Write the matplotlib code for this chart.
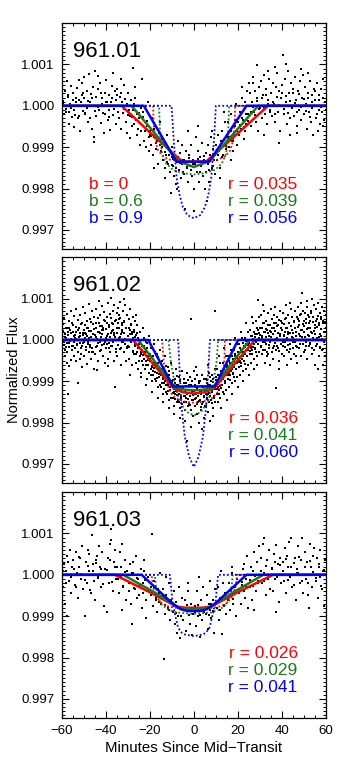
import numpy as np
import matplotlib
matplotlib.use('Agg')
from matplotlib import pyplot as plt
from matplotlib.ticker import MultipleLocator, FixedLocator, FormatStrFormatter

plt.rcParams['font.family'] = ['Liberation Sans', 'DejaVu Sans']

names = ['961.01', '961.02', '961.03']
b_labels = ['b = 0', 'b = 0.6', 'b = 0.9']
r_labels = [['r = 0.035', 'r = 0.039', 'r = 0.056'],
            ['r = 0.036', 'r = 0.041', 'r = 0.060'],
            ['r = 0.026', 'r = 0.029', 'r = 0.041']]
colors = ['#ff0000', '#1b7a1b', '#0000ff']
yticks = [0.997, 0.998, 0.999, 1.000, 1.001]

# data points: (minutes, flux - 1 in units of 1e-5)
pts1 = [(-59.6,12),(-59.0,-20),(-58.4,35),(-58.0,-8),(-57.3,22),(-56.9,-45),(-56.2,5),(-55.8,48),(-55.3,-28),(-59.8,-35),(-57.7,60),(-56.5,-15),
        (-54.8,30),(-54.2,-52),(-53.5,8),(-53.0,42),(-52.6,-30),(-52.0,15),(-51.5,-60),(-51.0,25),(-50.4,-12),(-50.8,55),(-53.8,-22),(-52.3,62),
        (-49.7,70),(-49.2,-18),(-48.6,35),(-48.0,-40),(-47.5,78),(-47.0,10),(-46.4,-55),(-45.9,45),(-45.5,-75),(-45.2,-88),(-46.8,28),(-48.3,-5),(-49.9,20),
        (-44.8,85),(-44.3,-25),(-43.7,40),(-43.1,-10),(-42.6,55),(-42.0,-42),(-41.5,18),(-41.0,-65),(-40.5,30),(-40.2,-20),(-43.4,72),(-41.8,5),
        (-39.7,62),(-39.2,-35),(-38.7,25),(-38.1,-58),(-37.6,8),(-37.0,48),(-36.5,-22),(-36.0,35),(-35.5,-45),(-35.2,15),(-38.4,-10),(-36.8,80),
        (-34.7,40),(-34.2,-30),(-33.6,22),(-33.0,-55),(-32.5,10),(-32.0,-18),(-31.5,50),(-31.0,-40),(-30.5,5),(-30.2,-65),(-33.3,65),(-31.8,-8),
        (-29.7,30),(-29.2,-25),(-28.6,15),(-28.1,-50),(-27.8,92),(-27.5,-10),(-27.0,-45),(-26.5,20),(-26.0,-70),(-25.6,-20),(-25.2,-55),(-28.9,-78),(-26.8,45),
        (-24.7,-30),(-24.3,-95),(-23.8,-60),(-23.5,65),(-23.1,-15),(-22.6,-85),(-22.2,-40),(-21.8,-100),(-21.3,-50),(-20.9,10),(-20.5,-75),(-20.2,-110),(-24.0,-5),
        (-19.8,-60),(-19.4,-95),(-19.0,-30),(-18.5,-120),(-18.1,-75),(-17.7,-50),(-17.2,-105),(-16.8,-85),(-16.3,-140),(-15.9,-65),(-15.5,-95),(-15.2,-40),(-17.9,-150),
        (-14.8,-110),(-14.4,-80),(-13.9,-130),(-13.5,-95),(-13.0,-150),(-12.6,-120),(-12.1,-70),(-11.7,-140),(-11.2,-105),(-10.8,-160),(-10.4,-210),(-10.1,-125),(-13.2,-175),
        (-9.8,-100),(-9.4,-145),(-9.0,-170),(-8.5,-120),(-8.1,-190),(-7.7,-135),(-7.2,-85),(-6.8,-155),(-6.3,-115),(-5.9,-175),(-5.5,-140),(-5.2,-95),(-7.5,-200),
        (-4.8,-130),(-4.4,-165),(-3.9,-250),(-3.5,-110),(-3.0,-150),(-2.6,-185),(-2.1,-120),(-1.7,-145),(-1.2,-95),(-0.8,-170),(-0.4,-130),(-0.1,-200),(-2.8,-60),
        (0.2,-255),(0.6,-140),(1.0,-75),(1.4,-160),(1.9,-110),(2.3,-185),(2.7,-125),(3.2,-145),(3.6,-90),(4.1,-170),(4.5,-130),(4.9,-200),(2.0,-50),
        (5.3,-115),(5.7,-160),(6.2,-95),(6.6,-140),(7.0,-185),(7.5,-120),(7.9,-75),(8.4,-150),(8.8,-105),(9.2,-130),(9.7,-165),(6.0,-230),(8.1,-60),
        (10.2,-95),(10.6,-130),(11.1,-70),(11.5,-110),(12.0,-150),(12.4,-85),(12.9,-60),(13.3,-120),(13.8,-95),(14.2,-40),(14.7,-105),(11.8,-175),(13.6,-15),
        (15.2,-75),(15.6,-40),(16.1,-100),(16.5,-60),(17.0,-20),(17.4,-85),(17.9,-110),(18.3,-50),(18.8,-70),(19.2,5),(19.7,-95),(16.8,-130),(18.6,-35),
        (20.2,-40),(20.6,-70),(21.1,-15),(21.5,-55),(22.0,20),(22.4,-35),(22.9,-80),(23.3,10),(23.8,-45),(24.2,35),(24.7,-20),(21.7,45),(23.0,-60),(24.9,55),
        (25.2,-25),(25.6,30),(26.1,-50),(26.5,10),(27.0,55),(27.4,-15),(27.9,35),(28.3,-40),(28.5,99),(28.8,20),(29.2,-60),(29.7,45),(26.8,70),
        (30.2,-5),(30.6,60),(31.1,-30),(31.5,25),(32.0,75),(32.4,-20),(32.9,40),(33.3,-45),(33.8,15),(34.2,65),(34.7,-10),(31.8,-70),(33.5,85),
        (35.2,30),(35.6,-25),(36.1,55),(36.5,5),(37.0,-40),(37.4,45),(37.9,80),(38.3,-15),(38.8,35),(39.2,-60),(39.7,20),(36.8,95),(38.6,-90),
        (40.2,50),(40.6,123),(41.1,-20),(41.5,65),(42.0,10),(42.4,-45),(42.9,85),(43.3,30),(43.8,-30),(44.2,55),(44.7,-5),(41.8,100),(43.6,-70),
        (45.2,40),(45.6,-25),(46.1,70),(46.5,15),(47.0,-50),(47.4,35),(47.9,-10),(48.3,60),(48.8,-35),(49.2,20),(49.7,75),(46.8,-65),(48.6,90),
        (50.2,-20),(50.6,45),(51.1,5),(51.5,-55),(52.0,30),(52.4,-15),(52.9,60),(53.3,-40),(53.8,25),(54.2,-70),(54.7,40),(51.8,80),(53.6,-5),
        (55.2,35),(55.6,-30),(56.1,55),(56.5,-60),(57.0,15),(57.4,-45),(57.9,40),(58.3,-15),(58.8,65),(59.2,-35),(59.7,10),(56.8,-10),(58.6,-50)]
pts1_core = [(-59.3,5),(-58.2,-15),(-57.0,25),(-56.0,-6),(-55.0,14),(-54.4,-10),(-53.3,20),(-52.1,-24),(-51.2,8),(-50.1,32),
             (-49.4,-20),(-48.2,12),(-47.2,-30),(-46.1,18),(-45.0,-12),(-44.5,22),(-43.3,-4),(-42.3,30),(-41.2,-18),(-40.0,10),
             (-39.5,8),(-38.3,-26),(-37.3,18),(-36.2,-8),(-35.0,26),(-34.4,-14),(-33.2,30),(-32.2,-4),(-31.2,16),(-30.0,-22),
             (-29.4,-10),(-28.3,-28),(-27.2,4),(-26.2,-34),(-25.0,-18),(-24.4,-42),(-23.3,-28),(-22.2,-62),(-21.2,-36),(-20.0,-70),
             (-19.4,-72),(-18.3,-56),(-17.2,-90),(-16.2,-78),(-15.0,-110),(-14.4,-100),(-13.3,-112),(-12.2,-135),(-11.2,-120),(-10.0,-142),
             (-9.4,-128),(-8.3,-150),(-7.2,-124),(-6.2,-138),(-5.0,-160),(-4.4,-132),(-3.3,-148),(-2.2,-126),(-1.2,-156),(-0.2,-140),
             (0.8,-146),(1.8,-128),(2.8,-160),(3.8,-138),(4.8,-122),(5.8,-134),(6.8,-156),(7.8,-128),(8.8,-145),(9.8,-120),
             (10.8,-118),(11.8,-98),(12.8,-124),(13.8,-82),(14.8,-96),(15.8,-76),(16.8,-60),(17.8,-84),(18.8,-48),(19.8,-62),
             (20.8,-46),(21.8,-30),(22.8,-52),(23.8,-20),(24.8,-36),(25.8,-14),(26.8,-2),(27.8,-22),(28.8,12),(29.8,-8),
             (30.8,18),(31.8,-6),(32.8,26),(33.8,4),(34.8,-16),(35.8,10),(36.8,-20),(37.8,22),(38.8,2),(39.8,32),
             (40.8,-8),(41.8,24),(42.8,-18),(43.8,12),(44.8,30),(45.8,6),(46.8,-14),(47.8,28),(48.8,-4),(49.8,16),
             (50.8,-12),(51.8,20),(52.8,-26),(53.8,8),(54.8,14),(55.8,-20),(56.8,26),(57.8,-2),(58.8,18),(59.8,-10)]

pts2 = [(-59.9,15),(-59.7,-22),(-59.4,38),(-59.1,-5),(-58.9,52),(-58.6,-40),(-58.3,8),(-58.1,-18),(-57.9,30),(-57.7,-55),(-57.6,62),(-58.8,-12),
        (-57.4,-30),(-57.2,20),(-57.0,-131),(-56.8,45),(-56.5,-8),(-56.3,25),(-56.0,-48),(-55.8,70),(-55.6,2),(-55.4,-25),(-55.2,40),(-56.6,-62),
        (-54.9,35),(-54.7,-15),(-54.4,58),(-54.2,-38),(-54.0,12),(-53.7,75),(-53.5,-52),(-53.3,20),(-53.0,-10),(-52.8,48),(-52.6,-28),(-53.9,5),
        (-52.4,-105),(-52.2,28),(-51.9,-45),(-51.7,60),(-51.5,10),(-51.2,-20),(-51.0,42),(-50.8,-65),(-50.5,18),(-50.3,80),(-50.1,-8),(-51.4,-35),
        (-49.9,25),(-49.7,-40),(-49.4,65),(-49.2,5),(-48.9,-18),(-48.7,45),(-48.4,-58),(-48.2,30),(-48.0,-5),(-47.8,88),(-47.6,-30),(-48.8,15),
        (-47.3,50),(-47.1,-12),(-46.8,22),(-46.6,-45),(-46.4,70),(-46.1,0),(-45.9,-28),(-45.7,38),(-45.4,-70),(-45.2,55),(-45.1,12),(-46.3,-20),
        (-44.9,-35),(-44.6,40),(-44.4,8),(-44.2,75),(-43.9,-15),(-43.7,52),(-43.5,-50),(-43.2,20),(-43.0,95),(-42.8,-5),(-42.6,33),(-43.8,-72),
        (-42.4,60),(-42.1,-25),(-41.9,15),(-41.7,82),(-41.4,-40),(-41.2,30),(-41.0,-10),(-40.7,68),(-40.5,-55),(-40.3,45),(-40.1,5),(-41.5,25),
        (-39.9,-20),(-39.6,55),(-39.4,10),(-39.1,-45),(-38.9,90),(-38.7,35),(-38.4,-8),(-38.2,62),(-38.0,-30),(-37.7,101),(-37.6,18),(-39.0,-62),
        (-37.3,40),(-37.1,-15),(-36.9,70),(-36.6,25),(-36.4,-50),(-36.1,85),(-35.9,-113),(-35.7,8),(-35.4,48),(-35.2,-28),(-35.1,65),(-36.3,12),
        (-34.9,30),(-34.7,-40),(-34.4,78),(-34.2,5),(-34.0,50),(-33.7,-22),(-33.5,92),(-33.2,15),(-33.0,-60),(-32.8,40),(-32.6,-5),(-33.8,60),
        (-32.4,20),(-32.1,70),(-31.9,-30),(-31.7,45),(-31.4,-10),(-31.2,85),(-31.0,-50),(-30.7,28),(-30.5,60),(-30.3,-20),(-30.1,10),(-31.5,100),
        (-29.9,-15),(-29.6,50),(-29.4,-45),(-29.2,25),(-28.9,75),(-28.7,-5),(-28.5,38),(-28.2,-60),(-28.0,15),(-27.8,-30),(-27.6,55),(-28.8,-85),
        (-27.3,20),(-27.1,-35),(-26.9,45),(-26.6,-10),(-26.4,-55),(-26.1,12),(-25.9,-30),(-25.7,35),(-25.4,-70),(-25.2,5),(-25.1,-20),(-26.3,60),
        (-24.9,-10),(-24.7,-50),(-24.4,20),(-24.2,-35),(-24.0,-80),(-23.7,0),(-23.5,-25),(-23.2,-60),(-23.0,30),(-22.8,-45),(-22.6,-15),(-23.8,-90),
        (-22.4,-30),(-22.1,-70),(-21.9,-5),(-21.7,-50),(-21.4,-95),(-21.2,-20),(-21.0,-60),(-20.7,-40),(-20.5,10),(-20.3,-80),(-20.1,-35),(-21.5,-110),
        (-19.9,-45),(-19.6,-85),(-19.4,-20),(-19.1,-65),(-18.9,-100),(-18.7,-40),(-18.4,-75),(-18.2,-55),(-18.0,-10),(-17.7,-95),(-17.6,-60),(-19.0,-125),
        (-17.3,-60),(-17.1,-100),(-16.9,-35),(-16.6,-80),(-16.4,-115),(-16.1,-55),(-15.9,-90),(-15.7,-70),(-15.4,-25),(-15.2,-110),(-15.1,-75),(-16.3,-140),
        (-14.9,-75),(-14.7,-115),(-14.4,-50),(-14.2,-95),(-14.0,-130),(-13.7,-70),(-13.5,-105),(-13.2,-85),(-13.0,-40),(-12.8,-125),(-12.6,-90),(-13.8,-150),
        (-12.4,-90),(-12.1,-130),(-11.9,-65),(-11.7,-110),(-11.4,-145),(-11.2,-85),(-11.0,-120),(-10.7,-100),(-10.5,-55),(-10.3,-140),(-10.1,-105),(-11.5,-165),
        (-9.9,-100),(-9.6,-140),(-9.4,-80),(-9.1,-125),(-8.9,-160),(-8.7,-95),(-8.4,-130),(-8.2,-115),(-8.0,-70),(-7.7,-150),(-7.6,-110),(-9.0,-180),
        (-7.3,-110),(-7.1,-145),(-6.9,-90),(-6.6,-130),(-6.4,-165),(-6.1,-100),(-5.9,-140),(-5.7,-120),(-5.4,-75),(-5.2,-155),(-5.1,-115),(-6.3,-190),
        (-4.9,-115),(-4.6,-150),(-4.4,-95),(-4.1,-135),(-3.9,-170),(-3.7,-105),(-3.4,-140),(-3.3,-245),(-3.0,-80),(-2.8,-160),(-2.6,-120),(-3.8,-195),
        (-2.4,-110),(-2.1,-155),(-1.9,-90),(-1.7,-135),(-1.4,50),(-1.2,-170),(-0.9,-125),(-0.7,-100),(-0.4,-145),(-0.2,-185),(-0.1,-75),(-1.5,-210),
        (0.1,-130),(0.4,-95),(0.6,-160),(0.9,-115),(1.1,-140),(1.4,-180),(1.6,-85),(1.9,-150),(2.1,-120),(2.3,-200),(2.4,-105),(1.2,-65),
        (2.6,-145),(2.9,-100),(3.1,-170),(3.4,-125),(3.6,-85),(3.9,-155),(4.1,-115),(4.4,-190),(4.6,-135),(4.8,-95),(4.9,-160),(3.7,-215),
        (5.1,-120),(5.4,-160),(5.6,-95),(5.9,-140),(6.1,-105),(6.4,-175),(6.6,-130),(6.9,-80),(7.1,-150),(7.3,-110),(7.4,-195),(6.2,-60),
        (7.6,-100),(7.9,-145),(8.1,-85),(8.4,-125),(8.6,-165),(8.9,-95),(9.1,-135),(9.4,-70),(9.5,69),(9.6,-150),(9.8,-110),(8.7,-185),
        (10.1,-90),(10.4,-130),(10.6,-70),(10.9,-115),(11.1,-150),(11.4,-85),(11.6,-120),(11.9,-55),(12.1,-140),(12.3,-100),(12.4,-165),(11.2,-40),
        (12.6,-75),(12.9,-110),(13.1,-55),(13.4,-95),(13.6,-130),(13.9,-70),(14.1,-100),(14.4,-40),(14.6,-120),(14.8,-85),(14.9,-145),(13.7,-20),
        (15.1,-60),(15.4,-95),(15.6,-40),(15.9,-80),(16.1,-115),(16.4,-55),(16.6,-85),(16.9,-25),(17.1,-105),(17.3,-70),(17.4,-130),(16.2,-10),
        (17.6,-45),(17.9,-80),(18.1,-25),(18.4,-65),(18.6,-100),(18.9,-40),(19.1,-70),(19.4,-10),(19.6,-90),(19.8,-55),(19.9,-115),(18.7,5),
        (20.1,-30),(20.4,-65),(20.6,-10),(20.9,-50),(21.1,-85),(21.4,-25),(21.6,-55),(21.9,5),(22.1,-75),(22.3,-40),(22.4,-100),(21.2,20),
        (22.6,-15),(22.9,-50),(23.1,5),(23.4,-35),(23.6,-70),(23.9,-10),(24.1,-40),(24.4,20),(24.6,-60),(24.8,-25),(24.9,-85),(23.7,40),
        (25.1,0),(25.4,-35),(25.6,25),(25.9,-20),(26.1,-55),(26.4,10),(26.6,-25),(26.9,40),(27.1,-45),(27.3,-10),(27.4,-70),(26.2,55),
        (27.6,15),(27.9,-20),(28.1,45),(28.4,-5),(28.6,-40),(28.9,25),(29.1,-10),(29.2,97),(29.4,55),(29.6,-30),(29.8,5),(28.7,-60),
        (30.1,30),(30.4,-15),(30.6,60),(30.9,10),(31.1,-35),(31.4,40),(31.6,-5),(31.9,70),(32.1,-25),(32.3,20),(32.4,-55),(31.2,85),
        (32.6,-10),(32.9,45),(33.1,-40),(33.4,25),(33.6,65),(33.9,-20),(34.1,10),(34.4,-60),(34.6,35),(34.8,-5),(34.9,75),(33.7,-35),
        (35.1,20),(35.4,-30),(35.6,50),(35.9,0),(36.1,-45),(36.4,30),(36.6,-15),(36.9,80),(37.1,-25),(37.3,40),(37.5,-116),(36.2,60),
        (37.6,5),(37.9,55),(38.1,-20),(38.4,35),(38.6,-50),(38.9,15),(39.1,70),(39.4,-10),(39.6,45),(39.8,-35),(39.9,25),(38.7,-70),
        (40.1,40),(40.4,-15),(40.6,65),(40.9,10),(41.1,-40),(41.4,50),(41.6,-5),(41.9,85),(42.1,-25),(42.3,30),(42.4,-60),(41.2,20),
        (42.6,15),(42.9,60),(43.1,-30),(43.4,40),(43.6,-10),(43.9,75),(44.1,-45),(44.4,25),(44.6,55),(44.8,-20),(44.9,5),(43.7,90),
        (45.1,-5),(45.4,45),(45.6,-35),(45.9,30),(46.1,70),(46.4,-15),(46.6,20),(46.9,-55),(47.1,50),(47.3,0),(47.4,80),(46.2,-40),
        (47.6,35),(47.9,-20),(48.1,60),(48.4,10),(48.6,-40),(48.9,113),(49.1,25),(49.4,-10),(49.6,70),(49.8,-30),(49.9,45),(48.7,90),
        (50.1,20),(50.4,65),(50.6,-25),(50.9,40),(51.1,-5),(51.4,80),(51.6,-45),(51.9,30),(52.1,55),(52.3,-15),(52.4,10),(51.2,95),
        (52.6,45),(52.9,-10),(53.1,70),(53.4,20),(53.6,-35),(53.9,55),(54.1,5),(54.4,85),(54.6,-25),(54.8,35),(54.9,-60),(53.7,100),
        (55.1,30),(55.4,75),(55.6,-15),(55.9,50),(56.1,5),(56.4,90),(56.6,-40),(56.9,40),(57.1,65),(57.3,-20),(57.4,15),(56.2,-70),
        (57.6,55),(57.9,10),(58.1,80),(58.4,-25),(58.6,45),(58.9,-5),(59.1,70),(59.4,20),(59.6,-40),(59.8,60),(59.9,30),(58.7,-60)]
pts2_core = [(-59.85,8),(-59.55,-12),(-59.25,22),(-58.95,-3),(-58.65,15),(-58.35,-25),(-58.05,4),(-57.75,28),(-57.45,-8),(-57.15,12),(-56.85,-18),(-56.55,30),(-56.25,-2),(-55.95,18),(-55.35,-14),
             (-54.85,20),(-54.55,-5),(-54.25,10),(-53.95,-20),(-53.65,32),(-53.35,2),(-53.05,-12),(-52.75,24),(-52.45,-30),(-52.15,6),(-51.85,16),(-51.55,-8),(-51.25,38),(-50.95,-15),(-50.35,12),
             (-49.85,-6),(-49.55,18),(-49.25,36),(-48.95,-24),(-48.65,10),(-48.35,28),(-48.05,-10),(-47.75,4),(-47.45,22),(-47.15,-16),(-46.85,44),(-46.55,8),(-46.25,-30),(-45.95,14),(-45.35,26),
             (-44.85,12),(-44.55,-18),(-44.25,30),(-43.95,2),(-43.65,20),(-43.35,-8),(-43.05,40),(-42.75,16),(-42.45,-26),(-42.15,6),(-41.85,34),(-41.55,-12),(-41.25,24),(-40.95,48),(-40.35,-4),
             (-39.85,26),(-39.55,-10),(-39.25,42),(-38.95,14),(-38.65,-20),(-38.35,32),(-38.05,6),(-37.75,52),(-37.45,-14),(-37.15,22),(-36.85,38),(-36.55,-4),(-36.25,16),(-35.95,46),(-35.35,-22),
             (-34.85,18),(-34.55,40),(-34.25,-12),(-33.95,28),(-33.65,8),(-33.35,54),(-33.05,-20),(-32.75,24),(-32.45,36),(-32.15,-6),(-31.85,16),(-31.55,44),(-31.25,2),(-30.95,30),(-30.35,-16),
             (-29.85,10),(-29.55,28),(-29.25,-18),(-28.95,14),(-28.65,36),(-28.35,-6),(-28.05,20),(-27.75,-26),(-27.45,4),(-27.15,24),(-26.85,-14),(-26.55,8),(-26.25,-34),(-25.95,16),(-25.35,-20),
             (-24.85,-18),(-24.55,-40),(-24.25,-6),(-23.95,-28),(-23.65,-52),(-23.35,-14),(-23.05,-36),(-22.75,4),(-22.45,-46),(-22.15,-22),(-21.85,-60),(-21.55,-30),(-21.25,-8),(-20.95,-48),(-20.35,-38),
             (-19.85,-50),(-19.55,-70),(-19.25,-38),(-18.95,-62),(-18.65,-84),(-18.35,-46),(-18.05,-68),(-17.75,-30),(-17.45,-78),(-17.15,-56),(-16.85,-92),(-16.55,-64),(-16.25,-42),(-15.95,-82),(-15.35,-72),
             (-14.85,-84),(-14.55,-104),(-14.25,-70),(-13.95,-92),(-13.65,-118),(-13.35,-80),(-13.05,-100),(-12.75,-64),(-12.45,-110),(-12.15,-88),(-11.85,-124),(-11.55,-96),(-11.25,-76),(-10.95,-114),(-10.35,-102),
             (-9.85,-108),(-9.55,-128),(-9.25,-96),(-8.95,-118),(-8.65,-142),(-8.35,-104),(-8.05,-124),(-7.75,-88),(-7.45,-134),(-7.15,-114),(-6.85,-150),(-6.55,-120),(-6.25,-100),(-5.95,-138),(-5.35,-126),
             (-4.85,-118),(-4.55,-136),(-4.25,-104),(-3.95,-126),(-3.65,-150),(-3.35,-112),(-3.05,-132),(-2.75,-96),(-2.45,-142),(-2.15,-122),(-1.85,-158),(-1.55,-128),(-1.25,-108),(-0.95,-146),(-0.35,-134),
             (0.15,-124),(0.45,-144),(0.75,-110),(1.05,-132),(1.35,-154),(1.65,-116),(1.95,-136),(2.25,-100),(2.55,-148),(2.85,-126),(3.15,-162),(3.45,-130),(3.75,-112),(4.05,-150),(4.65,-138),
             (5.15,-112),(5.45,-132),(5.75,-98),(6.05,-122),(6.35,-146),(6.65,-108),(6.95,-128),(7.25,-90),(7.55,-136),(7.85,-116),(8.15,-152),(8.45,-122),(8.75,-102),(9.05,-140),(9.65,-118),
             (10.15,-98),(10.45,-118),(10.75,-84),(11.05,-106),(11.35,-130),(11.65,-92),(11.95,-112),(12.25,-76),(12.55,-116),(12.85,-94),(13.15,-126),(13.45,-86),(13.75,-68),(14.05,-104),(14.65,-78),
             (15.15,-66),(15.45,-84),(15.75,-52),(16.05,-72),(16.35,-96),(16.65,-58),(16.95,-76),(17.25,-40),(17.55,-82),(17.85,-60),(18.15,-90),(18.45,-50),(18.75,-34),(19.05,-70),(19.65,-44),
             (20.15,-36),(20.45,-54),(20.75,-20),(21.05,-42),(21.35,-64),(21.65,-28),(21.95,-46),(22.25,-8),(22.55,-50),(22.85,-30),(23.15,-58),(23.45,-18),(23.75,-2),(24.05,-38),(24.65,-12),
             (25.15,-8),(25.45,-26),(25.75,10),(26.05,-14),(26.35,-34),(26.65,2),(26.95,-18),(27.25,20),(27.55,-22),(27.85,6),(28.15,-30),(28.45,14),(28.75,28),(29.05,-10),(29.65,18),
             (30.15,12),(30.45,-16),(30.75,30),(31.05,4),(31.35,-24),(31.65,20),(31.95,42),(32.25,-6),(32.55,26),(32.85,8),(33.15,-30),(33.45,16),(33.75,36),(34.05,-12),(34.65,22),
             (35.15,6),(35.45,28),(35.75,-20),(36.05,14),(36.35,40),(36.65,-8),(36.95,22),(37.25,2),(37.55,34),(37.85,-14),(38.15,18),(38.45,48),(38.75,-26),(39.05,10),(39.65,30),
             (40.15,24),(40.45,-4),(40.75,38),(41.05,12),(41.35,-18),(41.65,30),(41.95,52),(42.25,4),(42.55,20),(42.85,-12),(43.15,42),(43.45,16),(43.75,-22),(44.05,34),(44.65,8),
             (45.15,18),(45.45,44),(45.75,-6),(46.05,28),(46.35,10),(46.65,56),(46.95,-18),(47.25,32),(47.55,14),(47.85,46),(48.15,-10),(48.45,24),(48.75,62),(49.05,6),(49.65,38),
             (50.15,34),(50.45,8),(50.75,50),(51.05,-14),(51.35,26),(51.65,60),(51.95,12),(52.25,40),(52.55,-8),(52.85,30),(53.15,66),(53.45,18),(53.75,-20),(54.05,44),(54.65,22),
             (55.15,14),(55.45,46),(55.75,-10),(56.05,32),(56.35,58),(56.65,6),(56.95,36),(57.25,-16),(57.55,26),(57.85,50),(58.15,2),(58.45,40),(58.75,-22),(59.05,20),(59.65,44)]

pts3 = [(-59.6,-30),(-59.1,25),(-58.5,-70),(-58.0,10),(-57.4,45),(-56.9,-15),(-56.3,60),(-55.8,-45),(-55.3,20),(-57.8,-100),
        (-54.7,35),(-54.1,-25),(-53.6,55),(-53.0,5),(-52.5,-55),(-51.9,40),(-51.4,-10),(-50.8,70),(-50.3,-35),(-52.2,20),
        (-49.6,-100),(-49.1,30),(-48.5,-20),(-48.0,60),(-47.4,10),(-46.9,-45),(-46.4,97),(-45.8,25),(-45.3,-15),(-47.7,50),
        (-44.7,-60),(-44.2,35),(-43.6,-5),(-43.1,70),(-42.5,20),(-42.0,-30),(-41.5,55),(-40.9,-75),(-40.4,15),(-43.8,45),
        (-39.6,-90),(-39.1,40),(-38.5,-20),(-38.0,75),(-37.4,111),(-36.9,-40),(-36.3,30),(-35.8,60),(-35.3,-10),(-37.7,85),
        (-34.7,20),(-34.2,-45),(-33.6,55),(-33.1,-5),(-32.5,75),(-32.0,-30),(-31.4,35),(-30.9,-60),(-30.4,10),(-32.8,-85),
        (-29.6,-40),(-29.1,25),(-28.5,-70),(-28.3,-118),(-27.4,5),(-26.9,-35),(-26.4,45),(-25.8,-55),(-25.3,-10),(-27.8,30),
        (-24.7,-50),(-24.2,15),(-23.6,-80),(-23.1,-20),(-22.5,35),(-21.9,-60),(-21.5,-105),(-20.9,-5),(-20.4,-40),(-22.7,10),
        (-19.6,-30),(-18.8,99),(-18.5,-75),(-18.0,-15),(-17.4,-55),(-16.9,-90),(-16.3,-35),(-15.8,-65),(-15.3,5),(-17.7,-45),
        (-14.7,-70),(-14.2,-35),(-13.5,-203),(-13.1,-95),(-12.5,-50),(-11.9,-80),(-11.4,-20),(-10.9,-110),(-10.4,-60),(-12.7,-5),
        (-9.6,-90),(-9.1,-40),(-8.5,-120),(-8.0,-65),(-7.4,-100),(-6.9,-30),(-6.4,-152),(-5.8,-80),(-5.3,-55),(-7.7,-140),
        (-4.7,-110),(-4.2,-60),(-3.6,-135),(-3.1,-85),(-2.5,-40),(-1.9,-120),(-1.4,-70),(-0.9,-145),(-0.4,-95),(-2.8,-20),
        (0.4,-75),(0.9,-125),(1.5,-40),(2.0,-100),(2.6,-150),(3.1,-60),(3.6,-110),(4.2,-30),(4.7,-90),(2.3,-5),
        (5.3,-95),(5.8,-50),(6.4,-130),(6.9,-70),(7.5,-15),(8.0,-105),(8.5,-60),(9.1,-140),(9.6,-35),(7.2,-85),
        (10.4,-80),(10.9,-30),(11.5,-110),(12.0,-55),(12.6,-144),(13.1,-20),(13.6,-75),(14.2,-45),(14.7,-95),(12.3,10),
        (15.3,-60),(15.8,-20),(16.4,-85),(16.9,-40),(17.5,5),(18.0,-70),(18.5,-30),(19.1,-100),(19.6,-10),(17.2,20),
        (20.4,-45),(20.9,0),(21.5,-70),(22.0,-25),(22.6,25),(23.1,-55),(23.6,-10),(24.2,45),(24.7,-80),(22.3,15),
        (25.3,-30),(25.8,20),(26.4,-60),(26.9,10),(27.5,55),(28.0,-40),(28.5,30),(29.1,-15),(29.6,70),(27.2,-85),
        (30.4,40),(30.9,-20),(31.5,75),(32.0,5),(32.6,-50),(33.1,35),(33.6,-10),(34.2,60),(34.7,-35),(31.8,90),
        (35.3,15),(35.8,-40),(36.4,50),(36.9,-10),(37.5,72),(38.0,25),(38.5,-65),(39.1,40),(39.6,-20),(37.2,-90),
        (40.4,30),(40.9,-15),(41.5,65),(42.0,-45),(42.6,20),(43.1,80),(43.6,-5),(44.2,88),(44.7,-30),(42.3,45),
        (45.3,-25),(45.8,40),(46.4,-60),(46.9,15),(47.5,70),(48.0,-20),(48.5,35),(48.9,88),(49.6,-45),(47.2,5),
        (50.4,55),(50.9,-10),(51.5,30),(52.0,-50),(52.6,75),(53.1,20),(53.6,-30),(54.2,45),(54.5,64),(52.3,-80),
        (55.3,-15),(55.8,40),(56.4,-55),(56.9,20),(57.5,60),(58.0,-35),(58.5,10),(59.1,-75),(59.6,35),(57.2,-5)]
pts3_core = [(-59.3,8),(-58.2,-20),(-57.1,30),(-56.0,-5),(-54.4,15),(-53.3,-30),(-52.2,42),(-51.1,2),
             (-49.3,-12),(-48.2,22),(-47.1,-36),(-46.0,10),(-44.4,28),(-43.3,-8),(-42.2,14),(-41.1,-22),
             (-39.3,12),(-38.2,36),(-37.1,-18),(-36.0,20),(-34.4,-10),(-33.3,18),(-32.2,-26),(-31.1,6),
             (-29.3,-20),(-28.2,4),(-27.1,-32),(-26.0,-8),(-24.4,-24),(-23.3,-44),(-22.2,-12),(-21.1,-38),
             (-19.3,-50),(-18.2,-30),(-17.1,-62),(-16.0,-44),(-14.4,-52),(-13.3,-72),(-12.2,-58),(-11.1,-84),
             (-9.3,-70),(-8.2,-92),(-7.1,-80),(-6.0,-100),(-4.4,-84),(-3.3,-72),(-2.2,-98),(-1.1,-80),
             (0.6,-90),(1.7,-74),(2.8,-96),(3.9,-82),(5.6,-78),(6.7,-96),(7.8,-70),(8.9,-88),
             (10.6,-66),(11.7,-84),(12.8,-56),(13.9,-72),(15.6,-52),(16.7,-36),(17.8,-58),(18.9,-42),
             (20.6,-34),(21.7,-18),(22.8,-40),(23.9,-26),(25.6,-12),(26.7,-28),(27.8,-4),(28.9,-20),
             (30.6,8),(31.7,-14),(32.8,22),(33.9,-2),(35.6,16),(36.7,32),(37.8,-6),(38.9,24),
             (40.6,10),(41.7,38),(42.8,-12),(43.9,20),(45.6,28),(46.7,4),(47.8,44),(48.9,-14),
             (50.6,18),(51.7,-20),(52.8,34),(53.9,6),(55.6,-8),(56.7,26),(57.8,-26),(58.9,12)]

# model curves: (minutes, flux - 1 in ppm), order red (b=0), green (b=0.6), blue (b=0.9)
solid1 = [[(-60,0),(-32.8,0),(-19,-690),(-5.2,-1350),(5.5,-1350),(19.5,-690),(33.7,0),(60,0)],
          [(-60,0),(-28.3,0),(-7,-1340),(0,-1480),(7,-1340),(29.2,0),(60,0)],
          [(-60,0),(-22.7,0),(-7.9,-1350),(7.0,-1350),(23.9,0),(60,0)]]
dotted1 = [[(-60,0),(-18.5,0),(-18.2,-450),(-17.5,-850),(-16.2,-1080),(-14,-1220),(-11,-1300),(-6,-1345),(0,-1365),
            (6,-1345),(11,-1300),(14.3,-1220),(16.5,-1080),(17.8,-850),(18.5,-450),(18.8,0),(60,0)],
           [(-60,0),(-15.8,0),(-15.4,-600),(-14.5,-1150),(-12.5,-1400),(-9.5,-1550),(-5,-1630),(0,-1660),
            (5,-1630),(9.5,-1550),(12.7,-1400),(14.7,-1150),(15.6,-600),(16.0,0),(60,0)],
           [(-60,0),(-10.1,0),(-9.3,-700),(-7.9,-1700),(-6.5,-2150),(-5,-2450),(-3,-2640),(0,-2720),
            (3,-2640),(5,-2450),(6.6,-2150),(8,-1700),(9.3,-700),(10.0,0),(60,0)]]

solid2 = [[(-60,0),(-27.6,0),(-9,-1180),(-5,-1265),(0,-1295),(5,-1265),(9,-1180),(27.7,0),(60,0)],
          [(-60,0),(-25.3,0),(-8.5,-1160),(-4,-1205),(0,-1220),(4,-1205),(8.5,-1160),(25.4,0),(60,0)],
          [(-60,0),(-20.7,0),(-9.4,-1125),(9.5,-1125),(20.1,0),(60,0)]]
dotted2 = [[(-60,0),(-14.4,0),(-13.8,-450),(-13.2,-770),(-12,-1050),(-10.9,-1255),(-8.5,-1400),(-6.4,-1456),(-3,-1505),(0,-1520),
            (3,-1505),(6.4,-1456),(8.5,-1400),(10.9,-1255),(12.2,-1050),(13.4,-770),(13.9,-450),(14.1,0),(60,0)],
           [(-60,0),(-11.5,0),(-10.5,-500),(-8.6,-1092),(-6.4,-1497),(-3.3,-1740),(0,-1830),
            (3.3,-1740),(6.4,-1497),(8.6,-1092),(10.4,-500),(11.0,0),(60,0)],
           [(-60,0),(-7.1,0),(-6.5,-700),(-5.6,-1618),(-4.1,-2346),(-2.1,-2832),(0,-3075),
            (2.1,-2832),(4.1,-2346),(5.6,-1618),(6.6,-700),(7.3,0),(60,0)]]

solid3 = [[(-60,0),(-35.9,0),(-20,-420),(-8,-765),(-4,-795),(4,-795),(8,-765),(20,-420),(36,0),(60,0)],
          [(-60,0),(-32.1,0),(-18,-420),(-7,-790),(-3,-835),(3,-835),(7,-790),(18,-420),(31.5,0),(60,0)],
          [(-60,0),(-23.7,0),(-10,-680),(-6,-830),(-3,-876),(3,-876),(6,-830),(10,-680),(23.9,0),(60,0)]]
dotted3 = [[(-60,0),(-19.2,0),(-18.5,-300),(-16.9,-552),(-14.5,-690),(-12.4,-754),(-9,-795),(-6.3,-811),(0,-835),
            (6.3,-811),(9,-795),(12.4,-754),(14.8,-690),(17.2,-552),(18.9,-300),(19.7,0),(60,0)],
           [(-60,0),(-17.7,0),(-16.8,-450),(-15,-700),(-12,-830),(-8,-910),(0,-945),
            (8,-910),(12,-830),(15,-700),(16.8,-450),(17.7,0),(60,0)],
           [(-60,0),(-10.9,0),(-9.7,-633),(-8.4,-1000),(-7.1,-1282),(-5.5,-1400),(-4.1,-1443),(0,-1484),
            (4.1,-1443),(5.5,-1400),(7.1,-1282),(8.4,-1000),(9.9,-633),(11.0,0),(60,0)]]

points = [pts1 + pts1_core, pts2 + pts2_core, pts3 + pts3_core]
solids = [solid1, solid2, solid3]
dotteds = [dotted1, dotted2, dotted3]

fig = plt.figure(figsize=(3.46, 7.61), dpi=100)
boxes = [[0.1783, 0.6724, 0.7639, 0.2978],
         [0.1783, 0.3649, 0.7639, 0.2975],
         [0.1783, 0.0561, 0.7639, 0.2978]]

for i in range(3):
    ax = fig.add_axes(boxes[i])
    p = np.array(points[i], dtype=float)
    ax.plot(p[:, 0], 1 + p[:, 1]*1e-5, 's', color='black', ms=1.8, mew=0)
    for c, curve in zip(colors, dotteds[i]):
        d = np.array(curve, dtype=float)
        ax.plot(d[:, 0], 1 + d[:, 1]*1e-6, color=c, lw=1.3, ls=(0, (1, 1.2)))
    for c, curve in zip(colors, solids[i]):
        s = np.array(curve, dtype=float)
        ax.plot(s[:, 0], 1 + s[:, 1]*1e-6, color=c, lw=1.8)

    ax.set_xlim(-60, 60)
    ax.set_ylim(0.99653, 1.00201)
    ax.xaxis.set_major_locator(MultipleLocator(20))
    ax.xaxis.set_minor_locator(MultipleLocator(5))
    ax.yaxis.set_major_locator(FixedLocator(yticks))
    ax.yaxis.set_minor_locator(MultipleLocator(0.0001))
    ax.yaxis.set_major_formatter(FormatStrFormatter('%.3f'))
    ax.tick_params(which='both', direction='in', top=True, right=True, labelsize=9.5)
    ax.tick_params(which='major', length=5, width=0.8, pad=5)
    ax.tick_params(which='minor', length=2.5, width=0.7)
    for sp in ax.spines.values():
        sp.set_linewidth(0.9)
    if i < 2:
        ax.tick_params(labelbottom=False)

    ax.text(0.043, 0.849, names[i], transform=ax.transAxes, fontsize=16)
    ys = [0.265, 0.19, 0.115]
    for j in range(3):
        ax.text(0.893, ys[j], r_labels[i][j], color=colors[j], fontsize=12.5,
                ha='right', transform=ax.transAxes)
        if i == 0:
            ax.text(0.103, ys[j], b_labels[j], color=colors[j], fontsize=12.5,
                    ha='left', transform=ax.transAxes)
    if i == 1:
        ax.set_ylabel('Normalized Flux', fontsize=10.5)
        ax.yaxis.set_label_coords(-0.155, 0.5)
    if i == 2:
        ax.set_xlabel('Minutes Since Mid\u2212Transit', fontsize=10.8)
        ax.xaxis.set_label_coords(0.5, -0.10)

fig.savefig('out.png', dpi=100)
